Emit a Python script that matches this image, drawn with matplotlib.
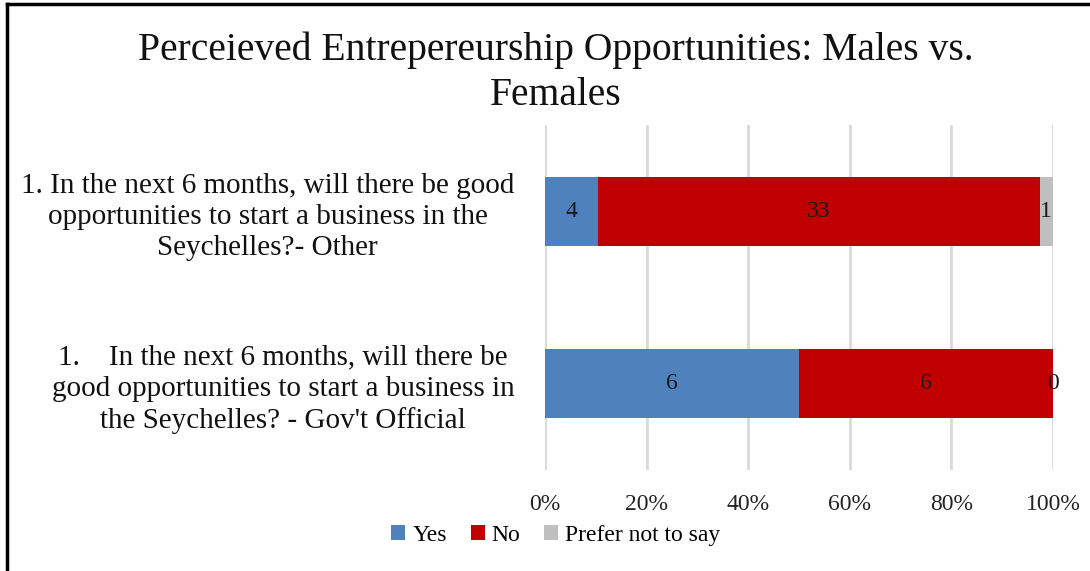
import matplotlib
matplotlib.use("Agg")
import matplotlib.pyplot as plt
from matplotlib.lines import Line2D
import numpy as np

plt.rcParams['font.family'] = ['Liberation Serif', 'DejaVu Serif']

title = "Perceieved Entrepereurship Opportunities: Males vs.\nFemales"
categories = [
    "1.    In the next 6 months, will there be\ngood opportunities to start a business in\nthe Seychelles? - Gov't Official",
    "1. In the next 6 months, will there be good\nopportunities to start a business in the\nSeychelles?- Other",
]
series_names = ["Yes", "No", "Prefer not to say"]
yes_counts = [6, 4]
no_counts = [6, 33]
prefer_counts = [0, 1]
colors = ["#4F81BD", "#C00000", "#BFBFBF"]
xtick_values = [0, 0.2, 0.4, 0.6, 0.8, 1.0]
xtick_labels = ["0%", "20%", "40%", "60%", "80%", "100%"]

counts = np.array([yes_counts, no_counts, prefer_counts], dtype=float)
totals = counts.sum(axis=0)
shares = counts / totals

fig = plt.figure(figsize=(10.9, 5.71), dpi=100)
ax = fig.add_axes([0.5, 0.177, 0.466, 0.604])

y = np.arange(len(categories))
left = np.zeros(len(categories))
for i, name in enumerate(series_names):
    ax.barh(y, shares[i], left=left, height=0.4, color=colors[i],
            label=name, zorder=3)
    for j in range(len(categories)):
        ax.text(left[j] + shares[i][j] / 2, y[j], f"{int(counts[i][j])}",
                ha="center", va="center", fontsize=17, color="#1a1a1a",
                zorder=4)
    left = left + shares[i]

ax.set_xlim(0, 1)
ax.set_ylim(-0.5, 1.5)
ax.set_xticks(xtick_values)
ax.set_xticklabels(xtick_labels, fontsize=17, color="#222222")
ax.set_yticks(y)
ax.set_yticklabels(categories, fontsize=21, color="#111111",
                   multialignment="center", linespacing=1.25)
ax.tick_params(axis="both", length=0)
ax.tick_params(axis="x", pad=17)
ax.tick_params(axis="y", pad=22)
ax.grid(axis="x", color="#D9D9D9", linewidth=2, zorder=0)
for s in ax.spines.values():
    s.set_visible(False)

fig.suptitle(title, fontsize=28.5, x=0.51, y=0.945, linespacing=1.3,
             color="#111111")

leg = fig.legend(loc="center", bbox_to_anchor=(0.51, 0.062), ncol=3,
                 frameon=False, fontsize=17, handlelength=0.6,
                 handleheight=0.6, handletextpad=0.3, columnspacing=1.0)

# frame lines along the top and left edge
fig.add_artist(Line2D([0.0065, 0.0065], [0, 0.993], transform=fig.transFigure,
                      color="black", linewidth=2.5))
fig.add_artist(Line2D([0.0065, 1.0], [0.993, 0.993], transform=fig.transFigure,
                      color="black", linewidth=2.5))

fig.savefig("out.png", dpi=100, facecolor="white")
